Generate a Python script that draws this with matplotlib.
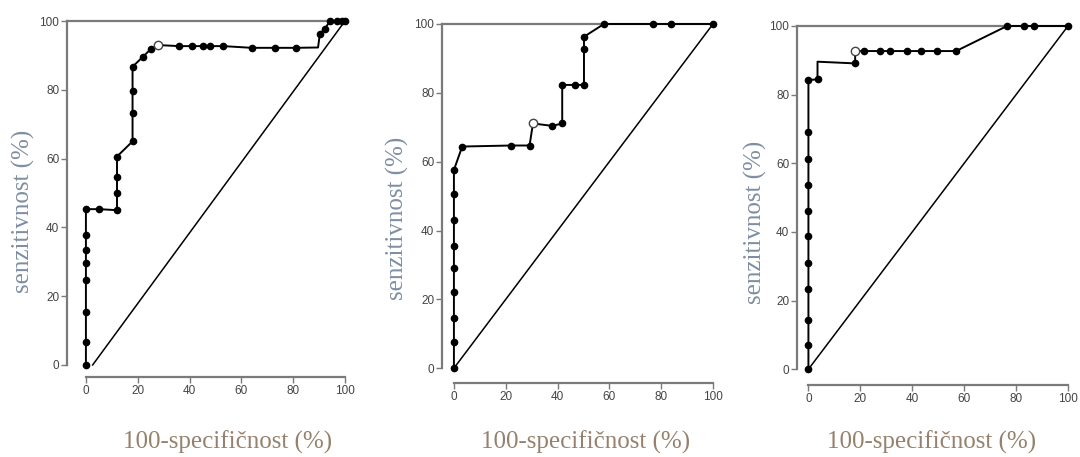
import matplotlib
matplotlib.use('Agg')
import matplotlib.pyplot as plt

# ROC curves, three panels: x = 100-specificity (%), y = sensitivity (%)
fpr1 = [0, 0, 0, 0, 0, 0, 0, 0, 5, 12, 12, 12, 12, 18, 18, 18, 18, 22, 25, 28,
        36, 41, 45, 48, 53, 64, 73, 81, 89.6, 90.3, 92.3, 94.2, 96.9, 98.8, 100]
tpr1 = [0, 6.6, 15.3, 24.7, 29.6, 33.4, 37.8, 45.3, 45.3, 45, 50, 54.7, 60.6, 65, 73.3,
        79.7, 86.7, 89.6, 91.8, 93, 92.7, 92.7, 92.7, 92.7, 92.7, 92.2, 92.2, 92.2,
        92.3, 96.3, 97.8, 100, 100, 100, 100]
cut1 = (28, 93)

fpr2 = [0, 0, 0, 0, 0, 0, 0, 0, 0, 3.2, 22.2, 29.2, 30.5, 38, 41.8, 41.8, 46.6, 50.2,
        50.2, 50.2, 57.9, 76.8, 83.9, 100]
tpr2 = [0, 7.7, 14.7, 22, 29, 35.5, 43.1, 50.5, 57.6, 64.4, 64.7, 64.7, 71.1, 70.4,
        71.1, 82.3, 82.3, 82.3, 92.6, 96.3, 100, 100, 100, 100]
cut2 = (30.5, 71.1)

fpr3 = [0, 0, 0, 0, 0, 0, 0, 0, 0, 0, 0, 3.5, 3.5, 18, 18, 21.5, 27.6, 31.3, 37.9,
        43.3, 49.7, 56.9, 76.5, 82.9, 86.8, 100]
tpr3 = [0, 7.1, 14.4, 23.3, 30.9, 38.8, 46.2, 53.7, 61.2, 69.2, 84.2, 84.5, 89.6, 89.1,
        92.7, 92.7, 92.7, 92.7, 92.7, 92.7, 92.7, 92.7, 100, 100, 100, 100]
cut3 = (18, 92.7)

ticks = [0, 20, 40, 60, 80, 100]
xlabel = '100-specifičnost (%)'
ylabel = 'senzitivnost (%)'

SPINE = '#7a7a7a'
W, H = 1080, 457


def px(x, y):
    return x / W, 1 - y / H


def roc_panel(fig, box, xl, yb, fpr, tpr, cut, skip, diag_start=0):
    ax = fig.add_axes(box)
    ax.set_xlim(xl, 100)
    ax.set_ylim(yb, 100)

    # reference line and the 100 % line along the top
    ax.plot([diag_start, 100], [0, 100], color='k', lw=1.1, clip_on=False)
    ax.plot([xl, 100], [100, 100], color=SPINE, lw=1.6, clip_on=False)

    ax.plot(fpr, tpr, color='k', lw=1.4, clip_on=False)
    idx = [i for i in range(len(fpr)) if i not in skip]
    ax.plot([fpr[i] for i in idx], [tpr[i] for i in idx], ls='none', marker='o',
            ms=4.5, color='k', clip_on=False, zorder=3)
    ax.plot(*cut, ls='none', marker='o', ms=6, mfc='white', mec='#444',
            mew=1.0, clip_on=False, zorder=4)

    for s in ['top', 'right']:
        ax.spines[s].set_visible(False)
    for s in ['left', 'bottom']:
        ax.spines[s].set_color(SPINE)
        ax.spines[s].set_linewidth(1.6)
        ax.spines[s].set_bounds(0, 100)
    ax.set_xticks(ticks)
    ax.set_yticks(ticks)
    ax.tick_params(direction='out', length=4, width=1, color=SPINE,
                   labelsize=8.5, labelcolor='#444444', pad=1.5)
    for lab in ax.get_xticklabels() + ax.get_yticklabels():
        lab.set_family('Liberation Sans')
    return ax


fig = plt.figure(figsize=(10.8, 4.57), dpi=100)

roc_panel(fig, [67 / W, 1 - 377 / H, 278 / W, 356 / H], -7.3, -3.5,
          fpr1, tpr1, cut1, skip=[19, 28], diag_start=2.6)
roc_panel(fig, [442 / W, 1 - 383 / H, 271 / W, 359 / H], -4.6, -4.3,
          fpr2, tpr2, cut2, skip=[12])
roc_panel(fig, [797 / W, 1 - 385 / H, 271 / W, 359 / H], -4.4, -4.6,
          fpr3, tpr3, cut3, skip=[12, 14])

serif = dict(family='Liberation Serif', fontsize=18)
for x, y in [(23, 211), (397, 218), (755, 222)]:
    fig.text(*px(x, y), ylabel, rotation=90, ha='center', va='center',
             color='#7f8ea2', **serif)
for x, y in [(228, 442), (586, 442), (932, 442)]:
    fig.text(*px(x, y), xlabel, ha='center', va='center', color='#96816e', **serif)

fig.savefig('out.png', dpi=100)
